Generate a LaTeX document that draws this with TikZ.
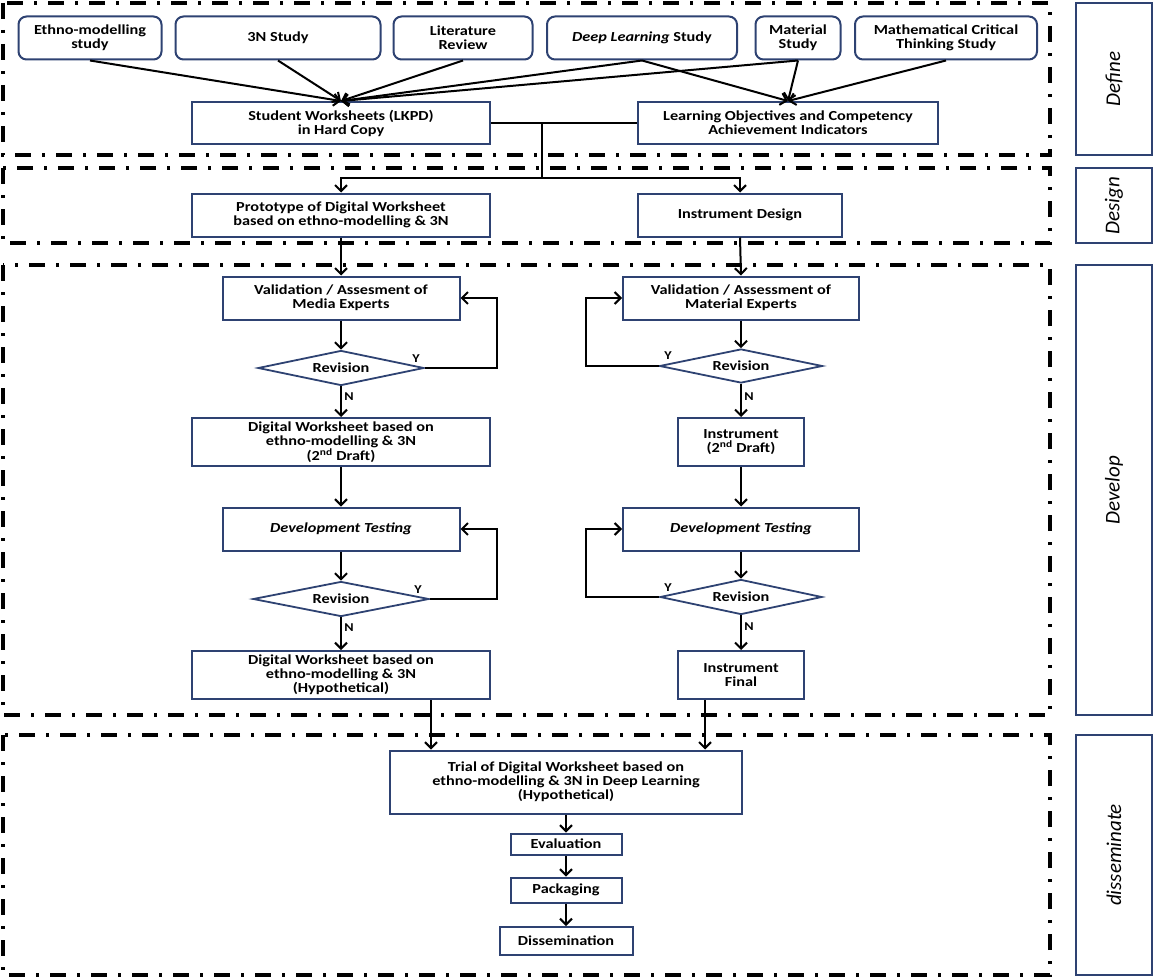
\documentclass[tikz,border=0pt]{standalone}
\usepackage{fontspec}
\setmainfont{Carlito}[FakeStretch=1.18]
\newfontfamily\stagefont{Carlito}
\usetikzlibrary{arrows.meta,shapes.geometric}

\begin{document}
\begin{tikzpicture}[x=1pt,y=-1pt,
  frame/.style={line width=3.2pt,dash pattern=on 16pt off 11pt on 3pt off 11pt},
  box/.style={draw=navy,line width=2pt,align=center,inner sep=0pt,font=\bfseries\fontsize{13.8}{14}\selectfont},
  study/.style={box,rounded corners=8pt},
  choice/.style={draw=navy,line width=1.8pt,diamond,aspect=4.7,inner sep=0pt,font=\bfseries\fontsize{13.8}{14}\selectfont},
  stage/.style={draw=navy,line width=2pt,rotate=90,font=\stagefont\itshape\fontsize{21}{21}\selectfont},
  link/.style={line width=2pt},
  arr/.style={line width=2pt,-{Straight Barb[length=6pt,width=12pt]}},
  yn/.style={font=\bfseries\fontsize{12}{12}\selectfont}]
\definecolor{navy}{HTML}{2E4272}
\useasboundingbox (0,0) rectangle (1155,979);

\draw[frame] (3,3) rectangle (1050,155);
\draw[frame] (3,168) rectangle (1050,243);
\draw[frame] (3,265) rectangle (1050,715);
\draw[frame] (3,735) rectangle (1050,975);

\node[stage, minimum width=152pt, minimum height=76pt] (defineLbl) at (1114,79) {Define};
\node[stage, minimum width=75pt, minimum height=76pt] (designLbl) at (1114,205.5) {Design};
\node[stage, minimum width=450pt, minimum height=76pt] (developLbl) at (1114,490) {Develop};
\node[stage, minimum width=240pt, minimum height=76pt] (dissLbl) at (1114,855) {disseminate};

\node[study, minimum width=143pt, minimum height=43pt] (ethno) at (90,38) {Ethno-modelling\\study};
\node[study, minimum width=205pt, minimum height=43pt] (n3) at (278,38) {3N Study};
\node[study, minimum width=139pt, minimum height=43pt] (lit) at (463,38) {Literature\\Review};
\node[study, minimum width=190pt, minimum height=43pt] (dl) at (642,38) {\textit{Deep Learning} Study};
\node[study, minimum width=85pt, minimum height=43pt] (mat) at (798,38) {Material\\Study};
\node[study, minimum width=182pt, minimum height=43pt] (mct) at (946,38) {Mathematical Critical\\Thinking Study};

\node[box, minimum width=298pt, minimum height=42pt] (sw) at (341,123) {Student Worksheets (LKPD)\\in Hard Copy};
\node[box, minimum width=300pt, minimum height=42pt] (lo) at (788,123) {Learning Objectives and Competency\\Achievement Indicators};

\node[box, minimum width=298pt, minimum height=43pt] (proto) at (341,215) {Prototype of Digital Worksheet\\based on ethno-modelling \& 3N};
\node[box, minimum width=204pt, minimum height=43pt] (idesign) at (740,215) {Instrument Design};

\node[box, minimum width=237pt, minimum height=43pt] (valL) at (341,298) {Validation / Assesment of\\Media Experts};
\node[choice, minimum width=166pt, minimum height=35pt] (revL1) at (341,368) {Revision};
\node[box, minimum width=298pt, minimum height=48pt] (dwL2) at (341,442) {Digital Worksheet based on\\ethno-modelling \& 3N\\(2\textsuperscript{nd} Draft)};
\node[box, minimum width=237pt, minimum height=43pt] (dtL) at (341,529) {\textit{Development Testing}};
\node[choice, minimum width=176pt, minimum height=35pt] (revL2) at (341,599) {Revision};
\node[box, minimum width=298pt, minimum height=48pt] (dwHyp) at (341,675) {Digital Worksheet based on\\ethno-modelling \& 3N\\(Hypothetical)};

\node[box, minimum width=236pt, minimum height=43pt] (valR) at (741,298) {Validation / Assessment of\\Material Experts};
\node[choice, minimum width=163pt, minimum height=34pt] (revR1) at (741,366) {Revision};
\node[box, minimum width=126pt, minimum height=48pt] (insR2) at (741,442) {Instrument\\(2\textsuperscript{nd} Draft)};
\node[box, minimum width=236pt, minimum height=43pt] (dtR) at (741,529) {\textit{Development Testing}};
\node[choice, minimum width=162pt, minimum height=35pt] (revR2) at (741,597) {Revision};
\node[box, minimum width=126pt, minimum height=48pt] (insF) at (741,675) {Instrument\\Final};

\node[box, minimum width=352pt, minimum height=63pt] (trial) at (566,782) {Trial of Digital Worksheet based on\\ethno-modelling \& 3N in Deep Learning\\(Hypothetical)};
\node[box, minimum width=111pt, minimum height=21pt] (eval) at (566,844) {Evaluation};
\node[box, minimum width=111pt, minimum height=25pt] (pack) at (566,890) {Packaging};
\node[box, minimum width=133pt, minimum height=28pt] (dissem) at (566,941) {Dissemination};

\draw[arr] (ethno.south) -- (sw.north);
\draw[arr] (n3.south) -- (sw.north);
\draw[arr] (lit.south) -- (sw.north);
\draw[arr] (dl.south) -- (sw.north);
\draw[arr] (mat.south) -- (sw.north);
\draw[arr] (dl.south) -- (lo.north);
\draw[arr] (mat.south) -- (lo.north);
\draw[arr] (mct.south) -- (lo.north);

\coordinate (split) at (542,123);
\coordinate (fork) at (542,178);
\draw[link] (sw.east) -- (lo.west);
\draw[link] (split) -- (fork);
\draw[arr] (fork) -| (proto.north);
\draw[arr] (fork) -| (idesign.north);

\draw[arr] (proto.south) -- (valL.north);
\draw[arr] (valL.south) -- (revL1.north);
\draw[arr] (revL1.south) -- (dwL2.north);
\draw[arr] (dwL2.south) -- (dtL.north);
\draw[arr] (dtL.south) -- (revL2.north);
\draw[arr] (revL2.south) -- (dwHyp.north);

\draw[arr] (idesign.south) -- (valR.north);
\draw[arr] (valR.south) -- (revR1.north);
\draw[arr] (revR1.south) -- (insR2.north);
\draw[arr] (insR2.south) -- (dtR.north);
\draw[arr] (dtR.south) -- (revR2.north);
\draw[arr] (revR2.south) -- (insF.north);

\coordinate (loopL1) at (497,298);
\coordinate (loopL2) at (497,529);
\coordinate (loopR1) at (586,298);
\coordinate (loopR2) at (586,529);
\draw[arr] (revL1.east) -| (loopL1) -- (valL.east);
\draw[arr] (revL2.east) -| (loopL2) -- (dtL.east);
\draw[arr] (revR1.west) -| (loopR1) -- (valR.west);
\draw[arr] (revR2.west) -| (loopR2) -- (dtR.west);

\node[yn] (yL1) at (416,359) {Y};
\node[yn] (yL2) at (418,590) {Y};
\node[yn] (yR1) at (668,356) {Y};
\node[yn] (yR2) at (668,588) {Y};
\node[yn] (nL1) at (349,397) {N};
\node[yn] (nL2) at (349,628) {N};
\node[yn] (nR1) at (749,397) {N};
\node[yn] (nR2) at (749,627) {N};

\coordinate (hypOut) at ([xshift=90pt]dwHyp.south);
\coordinate (finOut) at ([xshift=-36pt]insF.south);
\draw[arr] (hypOut) -- (hypOut |- trial.north);
\draw[arr] (finOut) -- (finOut |- trial.north);
\draw[arr] (trial.south) -- (eval.north);
\draw[arr] (eval.south) -- (pack.north);
\draw[arr] (pack.south) -- (dissem.north);
\end{tikzpicture}
\end{document}
